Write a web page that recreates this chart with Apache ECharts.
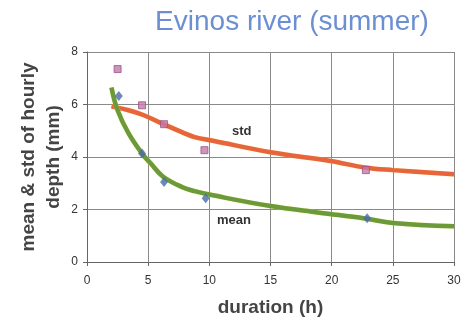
<!DOCTYPE html>
<html><head><meta charset="utf-8">
<script src="https://cdn.jsdelivr.net/npm/echarts@6/dist/echarts.min.js"></script>
<style>html,body{margin:0;padding:0;background:#fff}#c{width:464px;height:323px}</style>
</head><body><div id="c"></div>
<script>
var xTicks = [0, 5, 10, 15, 20, 25, 30];
var yTicks = [0, 2, 4, 6, 8];
var stdObs = [[2.5, 7.35], [4.5, 5.97], [6.3, 5.25], [9.6, 4.26], [22.8, 3.5]];
var meanObs = [[2.6, 6.32], [4.5, 4.13], [6.3, 3.05], [9.7, 2.43], [22.9, 1.67]];
var stdCurve = [[2.0, 5.93], [3.4, 5.78], [4.6, 5.6], [6.1, 5.28], [7.8, 4.94], [8.8, 4.76], [10.3, 4.62], [15, 4.18], [19.9, 3.85], [22.7, 3.6], [25, 3.5], [30, 3.34]];
var meanCurve = [[2.0, 6.65], [2.5, 5.78], [3.4, 4.9], [4.6, 4.07], [5.2, 3.76], [6.2, 3.26], [7.8, 2.85], [8.8, 2.7], [10.2, 2.55], [15, 2.13], [19, 1.88], [22.7, 1.66], [25, 1.49], [30, 1.36]];

var chart = echarts.init(document.getElementById('c'));
chart.setOption({
  animation: false,
  backgroundColor: '#fff',
  title: {
    text: 'Evinos river (summer)', left: 287, top: 3, textAlign: 'center',
    textStyle: {color: '#6c8fd2', fontSize: 28, fontWeight: 'normal', fontFamily: 'Liberation Sans'}
  },
  grid: {left: 87, right: 10, top: 52, bottom: 61, containLabel: false, outerBoundsMode: 'none'},
  xAxis: {
    type: 'value', min: xTicks[0], max: xTicks[xTicks.length - 1], interval: 5,
    name: 'duration (h)', nameLocation: 'middle', nameGap: 36, nameMoveOverlap: false,
    nameTextStyle: {color: '#444', fontSize: 19, fontWeight: 'bold', fontFamily: 'Liberation Sans'},
    axisLine: {lineStyle: {color: '#666', width: 1}},
    axisTick: {show: true, length: 4, lineStyle: {color: '#666'}},
    axisLabel: {color: '#333', fontSize: 12, margin: 13, fontFamily: 'Liberation Sans'},
    splitLine: {show: true, lineStyle: {color: '#8a8a8a', width: 1}}
  },
  yAxis: {
    type: 'value', min: yTicks[0], max: yTicks[yTicks.length - 1], interval: 2,
    name: 'mean & std of hourly\ndepth (mm)', nameLocation: 'middle', nameGap: 21, nameRotate: 90, nameMoveOverlap: false,
    nameTextStyle: {color: '#444', fontSize: 19, fontWeight: 'bold', fontFamily: 'Liberation Sans', lineHeight: 25},
    axisLine: {show: true, lineStyle: {color: '#666', width: 1}},
    axisTick: {show: true, length: 4, lineStyle: {color: '#666'}},
    axisLabel: {color: '#333', fontSize: 12, margin: 9, fontFamily: 'Liberation Sans'},
    splitLine: {show: true, lineStyle: {color: '#8a8a8a', width: 1}}
  },
  series: [
    {type: 'line', data: stdCurve, smooth: 0.4, showSymbol: false,
     lineStyle: {color: '#e8643c', width: 4.5, shadowColor: 'rgba(240,220,80,0.7)', shadowBlur: 1}, z: 3},
    {type: 'line', data: meanCurve, smooth: 0.4, showSymbol: false,
     lineStyle: {color: '#6a9a3c', width: 4.5, shadowColor: 'rgba(240,230,60,0.8)', shadowBlur: 1}, z: 3},
    {type: 'scatter', data: stdObs, symbol: 'rect', symbolSize: 7,
     itemStyle: {color: '#c27aa8', borderColor: '#a0508a', borderWidth: 1}, z: 4},
    {type: 'scatter', data: meanObs, symbol: 'diamond', symbolSize: [8, 10],
     itemStyle: {color: '#4a6ca8'}, z: 4}
  ],
  graphic: [
    {type: 'text', left: 232, top: 125, style: {text: 'std', fill: '#333', font: 'bold 13px Liberation Sans'}},
    {type: 'text', left: 217, top: 214, style: {text: 'mean', fill: '#333', font: 'bold 13px Liberation Sans'}}
  ]
});
</script></body></html>
